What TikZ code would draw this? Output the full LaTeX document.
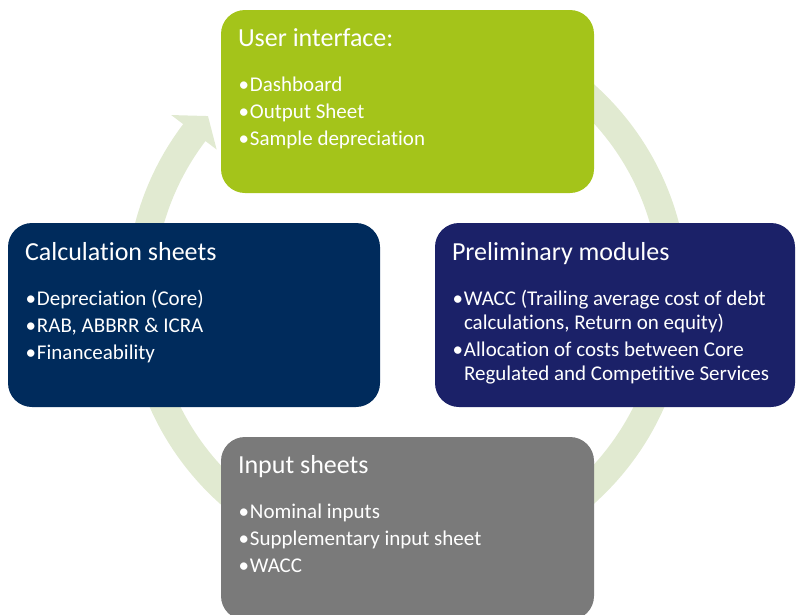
\documentclass[tikz,border=0pt]{standalone}
\usepackage{fontspec}
\setmainfont{Carlito}[Ligatures=NoCommon]
\usetikzlibrary{positioning}
\definecolor{uigreen}{HTML}{A4C41A}
\definecolor{calcblue}{HTML}{002B5C}
\definecolor{prelimblue}{HTML}{1B2168}
\definecolor{inputgrey}{HTML}{7A7A7A}
\definecolor{cyclegreen}{HTML}{E1EAD1}
\newcommand\bitem[1]{\par\hangindent=12pt\hangafter=1\noindent\makebox[12pt][l]{\hspace{0.5pt}\textbullet}#1\par\vskip3pt}
\tikzset{
	 module/.style = {rectangle, rounded corners=24pt, inner sep=0pt, minimum width=373pt, minimum height=183pt},
	heading/.style = {anchor=base west, inner sep=0pt, text=white, font=\fontsize{26}{30}\selectfont},
	bullets/.style = {anchor=base west, inner sep=0pt, text=white, text width=345pt, align=flush left, font=\fontsize{21}{24}\selectfont}
}

\begin{document}
\begin{tikzpicture}[x=1pt, y=-1pt]
		\useasboundingbox (0,0) rectangle (798,614);
		\coordinate (hub) at (407,294);
		\fill[cyclegreen]
			([shift={(270:281)}]hub) arc[start angle=270, end angle=577.2, radius=281]
			-- ([shift={(577.2:296)}]hub) -- ([shift={(581.8:267)}]hub) -- ([shift={(577.2:239)}]hub)
			-- ([shift={(577.2:253)}]hub) arc[start angle=577.2, end angle=270, radius=253] -- cycle;
		\node[module, fill=uigreen] (ui) at (407.5,101.5){};
		\node[module, fill=calcblue, minimum width=372pt, minimum height=184pt] (calc) at (194,315){};
		\node[module, fill=prelimblue, minimum width=360pt, minimum height=184pt] (prelim) at (615,315){};
		\node[module, fill=inputgrey] (input) at (407.5,528.5){};
		\node[heading] (ui-head) at ([shift={(17,37)}]ui.north west) {User interface:};
		\node[bullets] (ui-list) at ([shift={(17,58)}]ui.north west)
			{\bitem{Dashboard}\bitem{Output Sheet}\bitem{Sample depreciation}};
		\node[heading] (calc-head) at ([shift={(17,38)}]calc.north west) {Calculation sheets};
		\node[bullets] (calc-list) at ([shift={(17,59)}]calc.north west)
			{\bitem{Depreciation (Core)}\bitem{RAB, ABBRR \& ICRA}\bitem{Financeability}};
		\node[heading] (prelim-head) at ([shift={(17,38)}]prelim.north west) {Preliminary modules};
		\node[bullets] (prelim-list) at ([shift={(17,59)}]prelim.north west)
			{\bitem{WACC (Trailing average cost of debt\newline calculations, Return on equity)}%
			 \bitem{Allocation of costs between Core\newline Regulated and Competitive Services}};
		\node[heading] (input-head) at ([shift={(17,37)}]input.north west) {Input sheets};
		\node[bullets] (input-list) at ([shift={(17,58)}]input.north west)
			{\bitem{Nominal inputs}\bitem{Supplementary input sheet}\bitem{WACC}};
	\end{tikzpicture}
\end{document}
